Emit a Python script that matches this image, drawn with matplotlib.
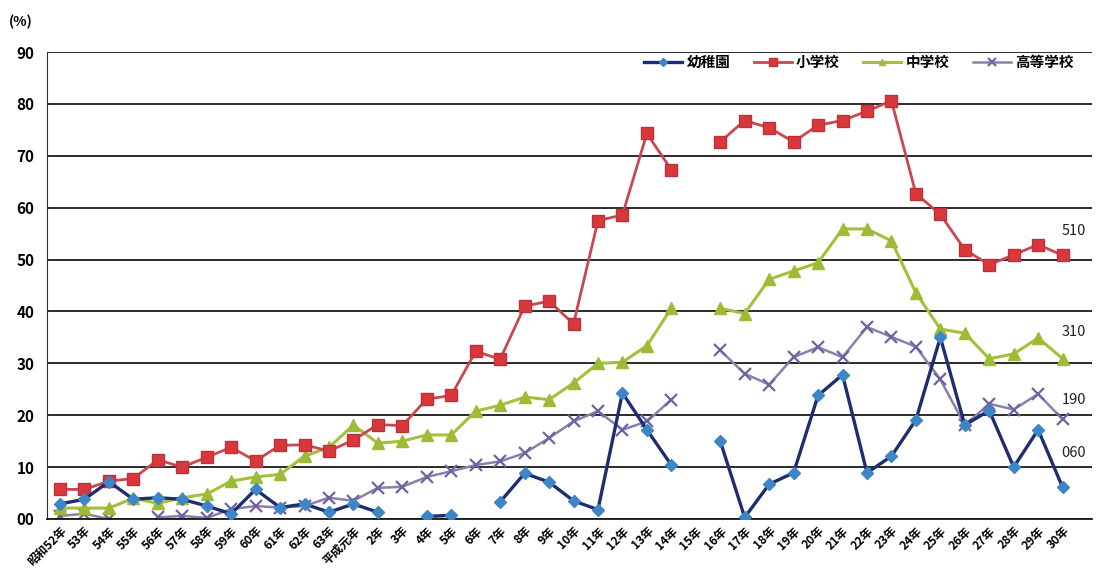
import numpy as np
import matplotlib
matplotlib.use('Agg')
import matplotlib.pyplot as plt

plt.rcParams['font.family'] = ['Noto Sans CJK JP', 'DejaVu Sans']

nan = np.nan
years = ['昭和52年', '53年', '54年', '55年', '56年', '57年', '58年', '59年', '60年', '61年',
         '62年', '63年', '平成元年'] + [f'{i}年' for i in range(2, 31)]

# 幼稚園
kinder = [2.9, 3.8, 7.2, 3.8, 4.1, 3.8, 2.5, 1.0, 5.7, 2.2, 2.9, 1.3, 2.9, 1.3, nan, 0.5,
          0.7, nan, 3.3, 8.8, 7.1, 3.5, 1.8, 24.3, 17.2, 10.4, nan, 15.0, 0.3, 6.7, 8.9,
          23.8, 27.8, 8.9, 12.1, 19.1, 35.0, 18.1, 20.9, 10.0, 17.2, 6.1]
# 小学校
elem = [5.7, 5.7, 7.3, 7.8, 11.4, 10.0, 11.9, 13.8, 11.2, 14.2, 14.3, 13.1, 15.2, 18.2,
        18.0, 23.1, 23.8, 32.3, 30.8, 41.0, 42.0, 37.6, 57.5, 58.6, 74.3, 67.3, nan, 72.7,
        76.8, 75.4, 72.7, 75.9, 76.8, 78.6, 80.6, 62.7, 58.7, 51.9, 49.0, 50.9, 52.9, 50.8]
# 中学校
junior = [2.1, 2.1, 2.1, 4.0, 3.0, 4.1, 4.8, 7.3, 8.1, 8.6, 12.1, 13.8, 18.1, 14.6, 15.0,
          16.2, 16.2, 20.8, 21.9, 23.5, 23.0, 26.2, 30.0, 30.2, 33.4, 40.6, nan, 40.6, 39.6,
          46.2, 47.8, 49.4, 55.9, 55.9, 53.6, 43.6, 36.6, 35.8, 30.9, 31.8, 34.9, 30.9]
# 高等学校
high = [0.6, 1.0, 0.0, nan, 0.3, 0.6, 0.2, 1.9, 2.5, 2.2, 2.5, 4.1, 3.5, 6.0, 6.2, 8.1,
        9.2, 10.4, 11.1, 12.7, 15.6, 18.8, 20.8, 17.2, 18.8, 23.0, nan, 32.5, 28.0, 25.9,
        31.2, 33.1, 31.2, 37.0, 35.1, 33.2, 26.9, 18.1, 22.2, 21.1, 24.1, 19.2]

end_labels = ['510', '310', '190', '060']
end_label_y = [55.5, 36.0, 23.0, 12.7]

yticks = np.arange(0, 100, 10)
ytick_labels = ['00', '10', '20', '30', '40', '50', '60', '70', '80', '90']

x = np.arange(len(years))

fig = plt.figure(figsize=(10.98, 5.80), dpi=100)
ax = fig.add_axes([0.0428, 0.1052, 0.9517, 0.8051])

ax.plot(x, kinder, color='#1f2d6e', lw=2.4, marker='D', ms=6.5,
        mfc='#3d86c6', mec='#3d86c6', label='幼稚園', zorder=5)
ax.plot(x, elem, color='#c9474e', lw=2.0, marker='s', ms=9,
        mfc='#d8383c', mec='#c03038', label='小学校', zorder=4)
ax.plot(x, junior, color='#a3c03c', lw=2.2, marker='^', ms=8,
        mfc='#9dbb35', mec='#9dbb35', label='中学校', zorder=3)
ax.plot(x, high, color='#8a80ad', lw=1.8, marker='x', ms=9, mew=1.6,
        mec='#6f62a0', label='高等学校', zorder=2)

for t, yv in zip(end_labels, end_label_y):
    ax.text(40.95, yv, t, fontsize=10.5, ha='left', va='center', color='#222222')

ax.set_xlim(-0.53, 42.2)
ax.set_ylim(0, 90)
ax.set_yticks(yticks)
ax.set_yticklabels(ytick_labels, fontsize=11, fontweight='bold')
ax.set_xticks(x)
ax.set_xticklabels(years, rotation=45, ha='right', rotation_mode='anchor',
                   fontsize=8.5, fontweight='bold')
ax.tick_params(axis='both', length=0)
ax.tick_params(axis='y', pad=9)
ax.tick_params(axis='x', pad=4)

ax.yaxis.grid(True, color='#1a1a1a', lw=1.3)
ax.set_axisbelow(True)
for s in ['top', 'right']:
    ax.spines[s].set_visible(False)
ax.spines['left'].set_color('#333333')
ax.spines['bottom'].set_color('#1a1a1a')
ax.spines['bottom'].set_linewidth(1.3)

fig.text(0.008, 0.962, '(%)', fontsize=10, fontweight='bold', va='center')

leg = ax.legend(loc='center right', bbox_to_anchor=(0.995, 0.978), ncol=4,
                frameon=False, fontsize=10.5, handlelength=2.6, columnspacing=1.6,
                handletextpad=0.3, markerscale=0.6)
for t in leg.get_texts():
    t.set_fontweight('bold')

fig.savefig('out.png', dpi=100)
